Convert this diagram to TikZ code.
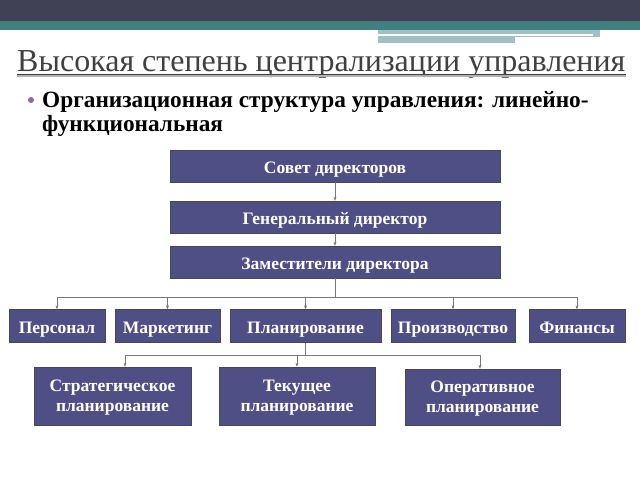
\documentclass[tikz,border=0pt]{standalone}
\usepackage{fontspec}
\setmainfont{Liberation Serif}
\usetikzlibrary{positioning,arrows.meta}

\definecolor{headdark}{RGB}{64,65,84}
\definecolor{headteal}{RGB}{64,128,128}
\definecolor{headlight}{RGB}{160,192,196}
\definecolor{titlegray}{RGB}{64,64,64}
\definecolor{bulletpurple}{RGB}{150,100,170}
\definecolor{boxblue}{RGB}{79,79,134}
\definecolor{boxedge}{RGB}{70,70,90}
\definecolor{linkgray}{RGB}{120,120,120}

\begin{document}
\begin{tikzpicture}[x=1pt,y=-1pt]
        \tikzstyle{every node}+=[inner sep=0pt]
        \tikzstyle{unit}=[draw=boxedge, fill=boxblue, text=white, align=center,
          font=\bfseries\fontsize{17.5}{20}\selectfont]
        \tikzstyle{oneline}=[unit, text height=14pt, text depth=0pt]
        \tikzstyle{twoline}=[unit, text depth=0pt]
        \tikzstyle{link}=[linkgray, -{Stealth[length=4pt,width=3pt]}]
        \useasboundingbox (0,0) rectangle (640,480);
        % header
        \fill [headdark] (0,0) rectangle (640,21);
        \fill [headteal] (0,21) rectangle (640,30);
        \fill [headlight] (378,30) rectangle (600,43);
        \fill [white] (378,34) rectangle (593,36);
        \fill [white] (515,37) rectangle (600,43);
        % title and bullet
        \node [anchor=base west, text=titlegray, font=\fontsize{32}{36}\selectfont] (title) at (17,71) {Высокая степень централизации управления};
        \draw [titlegray!40, line width=1.2pt] ([yshift=-5]title.base west) -- ([yshift=-5]title.base east);
        \draw [titlegray, line width=1pt] ([yshift=-3.5]title.base west) -- ([yshift=-3.5]title.base east);
        \fill [bulletpurple] (31,100) circle (3);
        \node [anchor=base west, font=\bfseries\fontsize{23.3}{26}\selectfont] (line1) at (42,107) {Организационная структура управления: линейно-};
        \node [anchor=base west, font=\bfseries\fontsize{23.3}{26}\selectfont] (line2) at (42,131) {функциональная};
        % top chain
        \node [oneline, minimum width=330, minimum height=32] (sovet) at (335,166) {Совет директоров};
        \node [oneline, minimum width=330, minimum height=32] (gen) at (335,217) {Генеральный директор};
        \node [oneline, minimum width=330, minimum height=32] (zam) at (335,262) {Заместители директора};
        % departments
        \node [oneline, minimum width=96, minimum height=33] (pers) at (57,326) {Персонал};
        \node [oneline, minimum width=105, minimum height=33] (mark) at (167.5,326) {Маркетинг};
        \node [oneline, minimum width=151, minimum height=33] (plan) at (305.5,326) {Планирование};
        \node [oneline, minimum width=124, minimum height=33] (proizv) at (453,326) {Производство};
        \node [oneline, minimum width=96, minimum height=33] (fin) at (577,326) {Финансы};
        % planning kinds
        \node [twoline, minimum width=157, minimum height=58] (strat) at (112.5,396) {Стратегическое\\планирование};
        \node [twoline, minimum width=156, minimum height=58] (tek) at (297,396) {Текущее\\планирование};
        \node [twoline, minimum width=155, minimum height=56] (oper) at (482.5,397) {Оперативное\\планирование};
        % links
        \draw [link] (sovet) -- (gen);
        \draw [link] (gen) -- (zam);
        \foreach \n in {pers,mark,plan,proizv,fin}
          \draw [link] (zam.south) -- ++(0,19) -| (\n.north);
        \draw [link] (plan.south) -- ++(0,12) -| ([xshift=12.5]strat.north);
        \draw [link] (plan.south) -- ++(0,12) -| (tek.north);
        \draw [link] (plan.south) -- ++(0,12) -| ([xshift=-2.5]oper.north);
    \end{tikzpicture}
\end{document}
